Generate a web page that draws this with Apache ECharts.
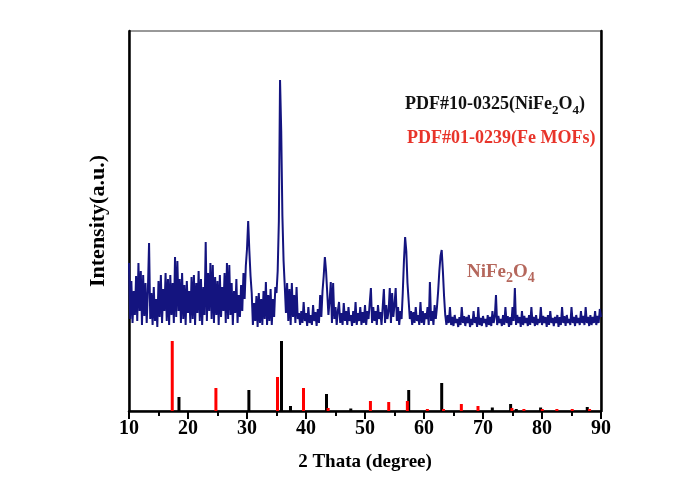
<!DOCTYPE html>
<html>
<head>
<meta charset="utf-8">
<script src="https://cdn.jsdelivr.net/npm/echarts@6/dist/echarts.min.js"></script>
<style>
html, body { margin: 0; background: #fff; }
#main { width: 686px; height: 488px; }
</style>
</head>
<body>
<div id="main"></div>
<script>
// XRD 样品曲线：2θ 从 10 开始，每 0.2° 一个点
var xStart = 10;
var xStep = 0.2;
var sampleIntensity = [
	148, 92, 130, 88, 120,   96, 135, 90, 148, 100,   140, 86, 136, 95, 128,   88, 120, 168, 92, 118,
	86, 124, 90, 112, 84,    130, 94, 136, 88, 122,   100, 138, 90, 132, 86,   136, 96, 128, 88, 154,
	94, 150, 100, 132, 88,   138, 92, 126, 86, 130,   98, 120, 88, 134, 92,    136, 86, 128, 98, 140,
	90, 132, 86, 124, 96,    169, 90, 138, 100, 148,  92, 146, 88, 134, 96,    130, 86, 136, 94, 124,
	100, 138, 88, 148, 92,   146, 96, 128, 86, 120,   98, 132, 88, 116, 94,    126, 100, 138, 112, 145,
	162, 190, 160, 135, 118, 86, 108, 90, 115, 84,    118, 88, 112, 86, 120,   92, 129, 86, 116, 90,
	122, 86, 112, 94, 124,   118, 140, 190, 331, 280, 195, 150, 125, 98, 128,  90, 122, 86, 128, 94,
	116, 88, 124, 92, 98,    86, 100, 88, 109, 90,    98, 85, 104, 88, 96,     86, 106, 90, 99, 85,
	102, 88, 116, 94, 120,   135, 154, 140, 118, 96,  110, 129, 88, 128, 92,   104, 86, 100, 109, 88,
	98, 86, 108, 90, 100,    86, 104, 90, 96, 85,     100, 88, 109, 86, 98,    90, 104, 86, 99, 88,
	106, 86, 100, 92, 108,   123, 88, 104, 90, 100,   86, 106, 92, 99, 86,     104, 122, 88, 106, 92,
	100, 123, 88, 118, 94,   106, 123, 90, 104, 86,   100, 92, 118, 150, 174,  160, 128, 110, 92, 100,
	86, 99, 88, 104, 90,     96, 86, 109, 88, 100,    86, 98, 92, 104, 86,     129, 90, 100, 86, 106,
	92, 104, 120, 140, 155,  161, 140, 115, 96, 86,   96, 88, 104, 86, 94,     85, 96, 88, 92, 84,
	94, 86, 104, 88, 95,     85, 94, 88, 96, 84,      92, 86, 100, 88, 94,     84, 104, 86, 93, 85,
	95, 88, 92, 84, 96,      86, 94, 85, 100, 88,     94, 116, 86, 95, 88,     92, 85, 96, 86, 104,
	88, 95, 84, 94, 86,      104, 90, 123, 86, 96,    88, 94, 84, 100, 86,     95, 88, 93, 85, 96,
	86, 104, 88, 94, 85,     96, 86, 92, 88, 104,     86, 95, 88, 94, 84,      96, 86, 100, 88, 93,
	85, 94, 88, 96, 84,      94, 86, 104, 88, 95,     85, 96, 88, 92, 86,      104, 88, 94, 85, 96,
	88, 93, 86, 100, 88,     95, 86, 104, 88, 94,     85, 96, 86, 94, 88,      100, 86, 95, 88, 102,
	94
];

// 标准卡片 PDF#10-0325 (NiFe2O4)，黑色竖线
var niFe2O4Pos = [18.47, 30.32, 35.85, 37.37, 43.47, 47.59, 57.41, 63.0, 71.58, 74.68, 75.64, 79.76, 87.67];
var niFe2O4Int = [14, 21, 70, 5, 17, 2.5, 21, 28, 3.5, 7, 2, 3.5, 4];

// 标准卡片 PDF#01-0239 (Fe MOFs)，红色竖线
var feMofPos = [17.33, 24.73, 35.17, 39.58, 43.75, 50.92, 54.02, 57.18, 60.57, 63.3, 66.33, 69.15, 74.9, 76.93, 80.04, 82.52, 85.12, 88.06];
var feMofInt = [70, 23, 34, 23, 3, 10, 9, 10, 2, 2, 7, 5, 3, 2, 2, 2, 2, 2];

var xMin = 10, xMax = 90, xInterval = 10;

var serif = "'Liberation Serif', 'Times New Roman', serif";

function pairs(xs, ys) {
	return xs.map(function(x, i) {
		return [x, ys[i]];
	});
}

// 下标用的 rich 样式
function formulaRich(color, size, subSize) {
	return {
		a: { fontFamily: serif, fontWeight: 'bold', fontSize: size, fill: color, lineHeight: 22, verticalAlign: 'top' },
		s: { fontFamily: serif, fontWeight: 'bold', fontSize: subSize, fill: color, lineHeight: 14, verticalAlign: 'bottom', padding: [10, 0, 0, 0] }
	};
}

var sampleData = sampleIntensity.map(function(v, i) {
	return [+(xStart + i * xStep).toFixed(2), v];
});

var myChart = echarts.init(document.getElementById('main'));

var option = {
	backgroundColor: '#fff',
	animation: false,
	grid: {
		left: 129,
		right: 85,
		top: 31,
		bottom: 77,
		show: true,
		borderColor: '#333',
		borderWidth: 1
	},
	xAxis: {
		type: 'value',
		min: xMin,
		max: xMax,
		interval: xInterval,
		name: '2 Thata (degree)',
		nameLocation: 'middle',
		nameGap: 42,
		nameTextStyle: {
			fontFamily: serif,
			fontWeight: 'bold',
			fontSize: 19,
			color: '#000'
		},
		axisLine: {
			onZero: false,
			lineStyle: { color: '#000', width: 2.5 }
		},
		axisTick: {
			inside: false,
			length: 8,
			lineStyle: { color: '#000', width: 2 }
		},
		minorTick: {
			show: true,
			splitNumber: 2,
			length: 5,
			lineStyle: { color: '#000', width: 2 }
		},
		axisLabel: {
			margin: 8,
			fontFamily: serif,
			fontWeight: 'bold',
			fontSize: 20,
			color: '#000'
		},
		splitLine: { show: false }
	},
	yAxis: [{
		type: 'value',
		min: 0,
		max: 380,
		name: 'Intensity(a.u.)',
		nameLocation: 'middle',
		nameGap: 20,
		nameTextStyle: {
			fontFamily: serif,
			fontWeight: 'bold',
			fontSize: 22,
			color: '#000'
		},
		axisLine: {
			show: true,
			lineStyle: { color: '#000', width: 2.5 }
		},
		axisTick: { show: false },
		axisLabel: { show: false },
		splitLine: { show: false }
	}, {
		type: 'value',
		position: 'right',
		min: 0,
		max: 380,
		axisLine: {
			show: true,
			lineStyle: { color: '#000', width: 2.5 }
		},
		axisTick: { show: false },
		axisLabel: { show: false },
		splitLine: { show: false }
	}],
	series: [{
		name: 'NiFe2O4',
		type: 'line',
		data: sampleData,
		showSymbol: false,
		symbol: 'none',
		lineStyle: { color: '#14147f', width: 2 },
		z: 3
	}, {
		name: 'PDF#10-0325',
		type: 'bar',
		data: pairs(niFe2O4Pos, niFe2O4Int),
		barWidth: 3,
		barGap: '-100%',
		itemStyle: { color: '#000' },
		z: 2
	}, {
		name: 'PDF#01-0239',
		type: 'bar',
		data: pairs(feMofPos, feMofInt),
		barWidth: 3,
		barGap: '-100%',
		itemStyle: { color: '#ff0000' },
		z: 2
	}],
	graphic: [{
		type: 'text',
		left: 405,
		top: 94,
		style: {
			text: '{a|PDF#10-0325(NiFe}{s|2}{a|O}{s|4}{a|)}',
			rich: formulaRich('#111', 18, 13)
		}
	}, {
		type: 'text',
		left: 407,
		top: 129,
		style: {
			text: 'PDF#01-0239(Fe MOFs)',
			fontFamily: serif,
			fontWeight: 'bold',
			fontSize: 18,
			fill: '#e8342a'
		}
	}, {
		type: 'text',
		left: 467,
		top: 261,
		style: {
			text: '{a|NiFe}{s|2}{a|O}{s|4}',
			rich: formulaRich('#b5675c', 19, 14)
		}
	}]
};

myChart.setOption(option);
</script>
</body>
</html>
